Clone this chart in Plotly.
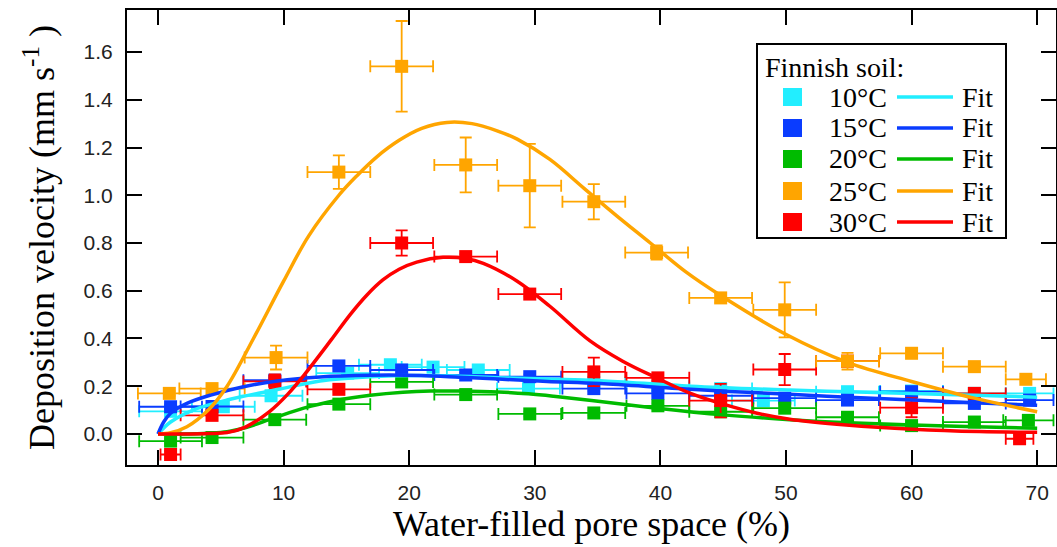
import plotly.graph_objects as go

# ---------------- data ----------------
cyan_x = [1.0, 5.2, 9.0, 15.1, 18.5, 21.9, 25.5, 29.5, 34.7, 39.8, 44.8, 48.2, 54.9, 60.0, 65.0, 69.4]
cyan_y = [0.095, 0.114, 0.16, 0.255, 0.29, 0.28, 0.268, 0.19, 0.215, 0.2, 0.19, 0.14, 0.177, 0.18, 0.17, 0.17]
cyan_ex = [2.5, 2.5, 2.5, 2.5, 2.5, 2.5, 2.5, 2.5, 2.5, 2.5, 2.5, 2.5, 2.5, 2.5, 2.5, 1.9]
cyan_ey = [0.01, 0.01, 0.01, 0.01, 0.01, 0.01, 0.01, 0.01, 0.01, 0.01, 0.01, 0.01, 0.01, 0.01, 0.01, 0.01]

blue_x = [1.0, 4.3, 9.3, 14.4, 19.4, 24.5, 29.6, 34.7, 39.8, 44.8, 49.9, 54.9, 60.0, 65.0, 69.4]
blue_y = [0.114, 0.115, 0.225, 0.285, 0.268, 0.247, 0.24, 0.19, 0.17, 0.16, 0.15, 0.142, 0.177, 0.128, 0.142]
blue_ex = [2.5, 2.5, 2.5, 2.5, 2.5, 2.5, 2.5, 2.5, 2.5, 2.5, 2.5, 2.5, 2.5, 2.5, 1.9]
blue_ey = [0.01, 0.01, 0.01, 0.01, 0.01, 0.01, 0.01, 0.01, 0.01, 0.01, 0.01, 0.01, 0.015, 0.01, 0.01]

green_x = [1.0, 4.3, 9.3, 14.4, 19.4, 24.5, 29.6, 34.7, 39.8, 44.8, 49.9, 54.9, 60.0, 65.0, 69.3]
green_y = [-0.03, -0.015, 0.06, 0.125, 0.218, 0.165, 0.084, 0.088, 0.118, 0.093, 0.108, 0.07, 0.035, 0.05, 0.057]
green_ex = [2.5, 2.5, 2.5, 2.5, 2.5, 2.5, 2.5, 2.5, 2.5, 2.5, 2.5, 2.5, 2.5, 2.5, 2.0]
green_ey = [0.01, 0.01, 0.01, 0.01, 0.01, 0.01, 0.01, 0.01, 0.01, 0.01, 0.01, 0.01, 0.01, 0.01, 0.01]

orange_x = [0.9, 4.3, 9.4, 14.4, 19.4, 24.5, 29.6, 34.7, 39.7, 44.8, 49.9, 54.9, 60.0, 65.0, 69.1]
orange_y = [0.17, 0.19, 0.32, 1.097, 1.54, 1.127, 1.04, 0.973, 0.76, 0.57, 0.52, 0.305, 0.338, 0.282, 0.229]
orange_ex = [2.5, 2.6, 2.5, 2.5, 2.5, 2.5, 2.5, 2.5, 2.5, 2.5, 2.5, 2.5, 2.5, 2.5, 1.6]
orange_ey = [0.01, 0.01, 0.05, 0.07, 0.19, 0.115, 0.175, 0.074, 0.03, 0.02, 0.115, 0.035, 0.01, 0.01, 0.01]

red_x = [1.0, 4.3, 9.3, 14.4, 19.4, 24.5, 29.6, 34.7, 39.8, 44.8, 49.9, 54.9, 60.0, 65.0, 68.6]
red_y = [-0.086, 0.078, 0.22, 0.187, 0.80, 0.743, 0.586, 0.26, 0.235, 0.14, 0.27, 0.305, 0.11, 0.17, -0.02]
red_ex = [0.8, 2.5, 2.5, 2.5, 2.5, 2.5, 2.5, 2.5, 2.5, 2.5, 2.5, 2.5, 2.5, 2.5, 1.1]
red_ey = [0.015, 0.01, 0.03, 0.01, 0.053, 0.01, 0.01, 0.06, 0.01, 0.07, 0.065, 0.01, 0.04, 0.02, 0.015]

# fitted curves
cyan_fit_x = [0, 1, 2.8, 5.5, 9.5, 12.9, 16.9, 21, 24, 27.1, 31, 35.2, 42.4, 50.3, 55, 60.1, 65, 70]
cyan_fit_y = [0, 0.05, 0.1, 0.142, 0.186, 0.222, 0.24, 0.245, 0.242, 0.236, 0.23, 0.223, 0.2, 0.184, 0.177, 0.17, 0.162, 0.154]

blue_fit_x = [0, 0.45, 1, 2.3, 4.2, 6.8, 9.5, 12.9, 16.9, 20.9, 24, 27.1, 31, 35.2, 42.4, 50.3, 55, 60.1, 65, 70]
blue_fit_y = [0, 0.05, 0.087, 0.128, 0.163, 0.198, 0.222, 0.239, 0.246, 0.245, 0.238, 0.23, 0.22, 0.211, 0.187, 0.166, 0.154, 0.142, 0.131, 0.12]

green_fit_x = [0, 2, 4, 5.5, 7, 9.2, 11.6, 14.2, 16.9, 19.5, 21.7, 24, 27.1, 29.5, 31.5, 35.2, 39.7, 45, 50.3, 55, 60.1, 65, 70]
green_fit_y = [0, 0.0, 0.003, 0.009, 0.027, 0.066, 0.108, 0.14, 0.162, 0.175, 0.18, 0.18, 0.176, 0.168, 0.158, 0.136, 0.108, 0.08, 0.06, 0.047, 0.038, 0.03, 0.024]

orange_fit_x = [0, 1, 2.3, 4, 5.5, 7.6, 10, 12, 14.4, 15.8, 17.4, 19.2, 21, 23, 25, 27, 28.6, 31.2, 33.9, 36.5, 39.2, 42, 44.8, 49.9, 54.9, 60, 65, 70]
orange_fit_y = [0, 0.005, 0.03, 0.1, 0.2, 0.4, 0.64, 0.83, 1.0, 1.08, 1.16, 1.23, 1.28, 1.305, 1.3, 1.27, 1.235, 1.15, 1.03, 0.915, 0.8, 0.68, 0.58, 0.42, 0.30, 0.22, 0.15, 0.093]

red_fit_x = [0, 2, 4, 5.5, 7, 8.9, 10.3, 11.6, 13.8, 15.3, 16.6, 17.9, 19.2, 20.6, 22.7, 24.5, 25.9, 28.6, 31.2, 34.4, 37, 39.7, 42.4, 45, 47.7, 50.3, 54.8, 60.1, 65.4, 70]
red_fit_y = [0, 0.0, 0.002, 0.006, 0.03, 0.095, 0.165, 0.245, 0.395, 0.5, 0.58, 0.645, 0.69, 0.72, 0.74, 0.735, 0.715, 0.64, 0.535, 0.39, 0.305, 0.235, 0.17, 0.125, 0.087, 0.062, 0.038, 0.02, 0.01, 0.007]

series_names = ["10°C", "15°C", "20°C", "25°C", "30°C"]
legend_title = "Finnish soil:"
fit_label = "Fit"

x_ticks = [0, 10, 20, 30, 40, 50, 60, 70]
y_ticks = [0.0, 0.2, 0.4, 0.6, 0.8, 1.0, 1.2, 1.4, 1.6]

# ---------------- styling ----------------
CYAN, BLUE, GREEN, ORANGE, RED = "#22EEFF", "#0A3CFF", "#00BB00", "#FFA500", "#FF0000"
SERIF = "Liberation Serif, Times New Roman, serif"
SANS = "Liberation Sans, Arial, sans-serif"

W, H = 1057, 547
ML, MR, MT, MB = 127, 1, 10, 82

fig = go.Figure()

points = [
    (cyan_x, cyan_y, cyan_ex, cyan_ey, CYAN, series_names[0]),
    (blue_x, blue_y, blue_ex, blue_ey, BLUE, series_names[1]),
    (green_x, green_y, green_ex, green_ey, GREEN, series_names[2]),
    (red_x, red_y, red_ex, red_ey, RED, series_names[4]),
    (orange_x, orange_y, orange_ex, orange_ey, ORANGE, series_names[3]),
]
for xs, ys, ex, ey, col, nm in points:
    fig.add_trace(go.Scatter(
        x=xs, y=ys, mode="markers", name=nm, showlegend=False,
        marker=dict(symbol="square", size=13, color=col, line=dict(width=0)),
        error_x=dict(type="data", array=ex, visible=True, color=col, thickness=1.8, width=6),
        error_y=dict(type="data", array=ey, visible=True, color=col, thickness=1.8, width=6),
    ))

fits = [
    (cyan_fit_x, cyan_fit_y, CYAN),
    (blue_fit_x, blue_fit_y, BLUE),
    (green_fit_x, green_fit_y, GREEN),
    (orange_fit_x, orange_fit_y, ORANGE),
    (red_fit_x, red_fit_y, RED),
]
for xs, ys, col in fits:
    fig.add_trace(go.Scatter(
        x=xs, y=ys, mode="lines", showlegend=False,
        line=dict(color=col, width=3.5, shape="spline", smoothing=1.0),
    ))

# ---------------- manual legend (decoration, in paper coords) ----------------
PW, PH = W - ML - MR, H - MT - MB
def px(x):
    return (x - ML) / PW
def py(y):
    return (H - MB - y) / PH

shapes = [dict(type="rect", xref="paper", yref="paper",
               x0=px(757), x1=px(1006), y0=py(238), y1=py(44),
               line=dict(color="black", width=2), fillcolor="white", layer="above")]
annotations = [dict(text=legend_title, xref="paper", yref="paper", x=px(763), y=py(67),
                    xanchor="left", yanchor="middle", showarrow=False,
                    font=dict(family=SERIF, size=28, color="black"))]
leg_cols = [CYAN, BLUE, GREEN, ORANGE, RED]
row_y = [97, 128, 159, 191, 222]
for nm, col, ry in zip(series_names, leg_cols, row_y):
    shapes.append(dict(type="rect", xref="paper", yref="paper",
                       x0=px(783), x1=px(802), y0=py(ry + 9), y1=py(ry - 9),
                       fillcolor=col, line=dict(width=0), layer="above"))
    shapes.append(dict(type="line", xref="paper", yref="paper",
                       x0=px(897), x1=px(953), y0=py(ry), y1=py(ry),
                       line=dict(color=col, width=3.5), layer="above"))
    annotations.append(dict(text=nm, xref="paper", yref="paper", x=px(889), y=py(ry),
                            xanchor="right", yanchor="middle", showarrow=False,
                            font=dict(family=SERIF, size=28, color="black")))
    annotations.append(dict(text=fit_label, xref="paper", yref="paper", x=px(960), y=py(ry),
                            xanchor="left", yanchor="middle", showarrow=False,
                            font=dict(family=SERIF, size=28, color="black")))

axis_common = dict(
    showline=True, linecolor="black", linewidth=2, mirror="ticks",
    ticks="inside", ticklen=15, tickwidth=2, tickcolor="black",
    showgrid=False, zeroline=False,
    tickfont=dict(family=SANS, size=21, color="#222"),
)

fig.update_layout(
    width=W, height=H,
    margin=dict(l=ML, r=MR, t=MT, b=MB, autoexpand=False),
    paper_bgcolor="white", plot_bgcolor="white",
    showlegend=False,
    hovermode=False,
    shapes=shapes,
    annotations=annotations,
    xaxis=dict(**axis_common, range=[-2.47, 71.5], tickvals=x_ticks,
               ticklabelstandoff=8,
               title=dict(text="Water-filled pore space (%)", standoff=4,
                          font=dict(family=SERIF, size=36, color="black"))),
    yaxis=dict(**axis_common, range=[-0.13, 1.776], tickvals=y_ticks, tickformat=".1f",
               ticklabelstandoff=8,
               title=dict(text="Deposition velocity (mm s<sup>-1</sup> )", standoff=18,
                          font=dict(family=SERIF, size=36, color="black"))),
)

fig.write_html("out.html")
